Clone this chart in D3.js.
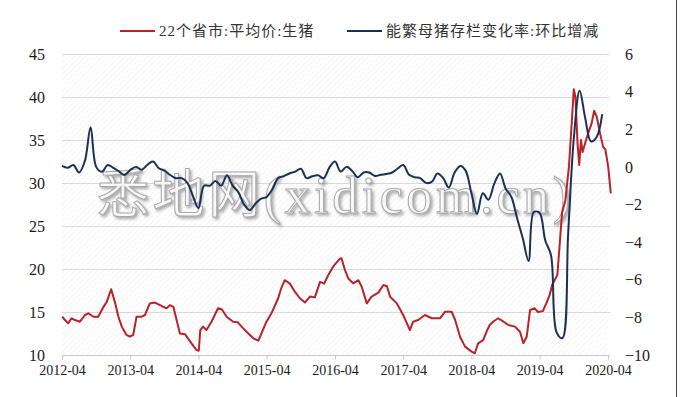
<!DOCTYPE html>
<html>

<head>
    <meta charset="utf-8">
    <script src="https://d3js.org/d3.v7.min.js"></script>
    <style>
        body { margin: 0; background: #fff; }
        svg text { font-family: "Liberation Serif", "Noto Sans CJK SC", serif; }
    </style>

    <script type="text/javascript">
        // 22个省市:平均价:生猪 (weekly, turning points)
        let priceDates = [
            "2012-04-02", "2012-04-17", "2012-05-04", "2012-05-22", "2012-06-09", "2012-07-06",
            "2012-08-02", "2012-08-20", "2012-09-16", "2012-10-12", "2012-11-09", "2012-11-27",
            "2012-12-20", "2013-01-11", "2013-01-28", "2013-02-15", "2013-03-12", "2013-03-30",
            "2013-04-17", "2013-05-05", "2013-06-01", "2013-06-19", "2013-07-15", "2013-08-11",
            "2013-09-16", "2013-10-13", "2013-10-31", "2013-11-18", "2013-12-23", "2014-01-20",
            "2014-02-25", "2014-03-21", "2014-04-03", "2014-04-11", "2014-04-26", "2014-05-14",
            "2014-06-10", "2014-07-15", "2014-08-05", "2014-08-30", "2014-10-04", "2014-10-29",
            "2014-11-27", "2014-12-24", "2015-01-20", "2015-02-16", "2015-03-04", "2015-03-31",
            "2015-04-27", "2015-06-02", "2015-06-20", "2015-07-07", "2015-08-04", "2015-08-30",
            "2015-09-26", "2015-10-23", "2015-11-19", "2015-12-15", "2016-01-12", "2016-02-03",
            "2016-02-25", "2016-03-22", "2016-04-27", "2016-05-06", "2016-05-24", "2016-06-11",
            "2016-07-07", "2016-08-04", "2016-08-22", "2016-09-18", "2016-10-14", "2016-11-19",
            "2016-12-16", "2017-01-04", "2017-01-21", "2017-02-26", "2017-04-01", "2017-05-07",
            "2017-05-24", "2017-06-20", "2017-07-26", "2017-09-01", "2017-10-15", "2017-11-11",
            "2017-12-16", "2018-01-04", "2018-01-30", "2018-02-26", "2018-04-02", "2018-04-19",
            "2018-05-07", "2018-06-03", "2018-06-21", "2018-07-08", "2018-07-26", "2018-08-22",
            "2018-09-18", "2018-10-15", "2018-11-20", "2018-12-17", "2019-01-04", "2019-01-22",
            "2019-02-09", "2019-03-06", "2019-03-23", "2019-04-18", "2019-05-07", "2019-05-25",
            "2019-06-07", "2019-06-21", "2019-07-05", "2019-07-18", "2019-07-30", "2019-08-17",
            "2019-09-05", "2019-09-22", "2019-10-01", "2019-10-10", "2019-10-21", "2019-10-30",
            "2019-11-08", "2019-11-17", "2019-11-30", "2019-12-17", "2020-01-04", "2020-01-18",
            "2020-02-01", "2020-02-18", "2020-03-06", "2020-03-18", "2020-04-02", "2020-04-16"
        ];
        let priceValues = [
            14.45, 14.07, 13.68, 14.27, 14.07, 13.87,
            14.65, 14.85, 14.45, 14.45, 15.6, 16.2,
            17.64, 16.0, 14.45, 13.3, 12.33, 12.13,
            12.33, 14.45, 14.45, 14.65, 16.0, 16.1,
            15.7, 15.43, 15.8, 15.6, 12.5, 12.4,
            11.3, 10.6, 10.5, 12.9, 13.3, 12.9,
            13.87, 15.43, 15.3, 14.45, 13.87, 13.8,
            13.1, 12.5, 11.94, 11.67, 12.5, 13.87,
            14.85, 16.6, 17.87, 18.7, 18.3, 17.36,
            16.6, 16.1, 16.8, 16.7, 18.5, 18.3,
            19.3, 20.27, 21.2, 21.24, 19.9, 18.9,
            18.34, 18.7, 17.94, 16.0, 16.78, 17.25,
            18.14, 18.0, 16.78, 16.0, 14.65, 12.9,
            13.87, 14.07, 14.65, 14.27, 14.27, 15.04,
            15.04, 14.07, 12.13, 10.97, 10.39, 10.2,
            11.36, 11.74, 12.7, 13.5, 13.87, 14.27,
            13.9, 13.5, 13.3, 12.7, 11.36, 12.13,
            15.23, 15.43, 15.0, 15.1, 16.0, 16.98,
            18.14, 18.72, 19.3, 23.0, 26.5, 28.0,
            31.9, 37.7, 40.9, 40.0, 34.6, 32.1,
            35.0, 33.6, 34.6, 35.8, 36.9, 38.4,
            37.7, 35.8, 34.2, 33.9, 31.9, 28.8
        ];

        // 能繁母猪存栏变化率:环比增减 (monthly, from 2012-04)
        let sowStart = "2012-04-01";
        let sowChange = [
            0.05, -0.05, 0.1, -0.3, 0.3, 2.1, 0.0, -0.26, 0.1, -0.05, -0.25, -0.43,
            -0.17, 0.0, -0.15, 0.1, 0.28, -0.07, -0.2, -0.43, -0.6, -0.6, -0.85, -1.5,
            -2.2, -1.0, -1.0, -0.75, -1.0, -0.45, -1.0, -1.35, -2.0, -2.3, -1.95, -1.7,
            -1.6, -1.2, -0.6, -0.5, -0.35, -0.25, -0.1, -0.6, -0.5, -0.45, -0.6, -0.05,
            0.28, -0.25, 0.0, -0.2, -0.55, -0.3, -0.3, -0.48, -0.42, -0.38, -0.3, -0.1,
            0.1, -0.4, -0.55, -0.6, -0.85, -0.8, -0.35, -0.6, -1.1, -0.3, 0.05, -0.2,
            -1.4, -2.5, -1.4, -1.75, -0.9, -0.35, -1.15, -1.6, -2.7, -3.8, -5.0, -2.4,
            -2.45, -3.9, -4.7, -8.8, -9.1, -3.5, 1.5, 4.05, 2.6, 1.35, 1.6, 2.8
        ];

        let xTicks = ["2012-04", "2013-04", "2014-04", "2015-04", "2016-04",
                      "2017-04", "2018-04", "2019-04", "2020-04"];
        let leftTicks = [10, 15, 20, 25, 30, 35, 40, 45];
        let rightTicks = [-10, -8, -6, -4, -2, 0, 2, 4, 6];
        let seriesNames = ["22个省市:平均价:生猪", "能繁母猪存栏变化率:环比增减"];
        let watermark = "悉地网(xidicom.cn)";

        function draw() {
            let width = 680,
                height = 397,
                left = 62,
                right = 608,
                top = 54,
                bottom = 355;

            let red = "#b8232a",
                navy = "#1c2f55";

            let svg = d3.select("body")
                .append("svg")
                    .attr("width", width)
                    .attr("height", height);

            let parseDay = d3.timeParse("%Y-%m-%d");
            let parseMonth = d3.timeParse("%Y-%m");

            let x = d3.scaleTime()
                .domain([parseMonth(xTicks[0]), parseMonth(xTicks[xTicks.length - 1])])
                .range([left, right]);
            let yL = d3.scaleLinear().domain([10, 45]).range([bottom, top]);
            let yR = d3.scaleLinear().domain([-10, 6]).range([bottom, top]);

            // hatched plot background
            let defs = svg.append("defs");
            defs.append("pattern")
                .attr("id", "hatch")
                .attr("patternUnits", "userSpaceOnUse")
                .attr("width", 4)
                .attr("height", 4)
                .attr("patternTransform", "rotate(45)")
                .append("line")
                    .attr("x1", 0).attr("y1", 0)
                    .attr("x2", 0).attr("y2", 4)
                    .attr("stroke", "#ebebeb")
                    .attr("stroke-width", 1);

            let shadow = defs.append("filter").attr("id", "wmShadow")
                .attr("x", "-5%").attr("y", "-20%").attr("width", "110%").attr("height", "140%");
            shadow.append("feDropShadow")
                .attr("dx", 2).attr("dy", 2).attr("stdDeviation", 1.5)
                .attr("flood-color", "#8a8a8a").attr("flood-opacity", 0.8);

            svg.append("rect")
                .attr("x", left)
                .attr("y", top)
                .attr("width", right - left)
                .attr("height", bottom - top)
                .attr("fill", "url(#hatch)");

            // gridlines from left axis
            svg.append("g")
                .selectAll("line")
                .data(leftTicks.filter(d => d > 10))
                .join("line")
                    .attr("x1", left)
                    .attr("x2", right + 2)
                    .attr("y1", d => Math.round(yL(d)) + 0.5)
                    .attr("y2", d => Math.round(yL(d)) + 0.5)
                    .attr("stroke", "#d9d9d9")
                    .attr("stroke-width", 1.2);

            // x axis
            let xAxis = d3.axisBottom(x)
                .tickValues(xTicks.map(parseMonth))
                .tickFormat(d3.timeFormat("%Y-%m"))
                .tickSize(4)
                .tickSizeOuter(0);
            let gx = svg.append("g")
                .attr("transform", `translate(0,${bottom + 0.5})`)
                .call(xAxis);
            gx.select(".domain").attr("stroke", "#c8c8c8").attr("d", `M${left},0H${right + 2}`);
            gx.selectAll(".tick line").attr("stroke", "#c8c8c8");
            gx.selectAll(".tick text")
                .attr("y", 10)
                .attr("fill", "#1a1a1a")
                .style("font-size", "14px")
                .style("font-family", "Liberation Serif");

            // left axis
            let gl = svg.append("g")
                .attr("transform", `translate(${left},0)`)
                .call(d3.axisLeft(yL).tickValues(leftTicks).tickSize(0).tickPadding(17));
            gl.select(".domain").remove();
            gl.selectAll(".tick text")
                .attr("fill", "#1a1a1a")
                .style("font-size", "16px")
                .style("font-family", "Liberation Serif");

            // right axis
            let gr = svg.append("g")
                .attr("transform", `translate(${right},0)`)
                .call(d3.axisRight(yR).tickValues(rightTicks).tickSize(0).tickPadding(17));
            gr.select(".domain").remove();
            gr.selectAll(".tick text")
                .attr("fill", "#1a1a1a")
                .style("font-size", "16px")
                .style("font-family", "Liberation Serif");

            // watermark
            svg.append("text")
                .attr("x", 97)
                .attr("y", 213)
                .attr("textLength", 473)
                .attr("lengthAdjust", "spacing")
                .attr("filter", "url(#wmShadow)")
                .style("font-size", "52px")
                .attr("fill", "#ffffff")
                .attr("fill-opacity", 0.85)
                .attr("stroke", "#a8a8a8")
                .attr("stroke-width", 1)
                .text(watermark);

            // price line
            let priceData = priceDates.map((d, i) => ({ date: parseDay(d), value: priceValues[i] }));
            let priceLine = d3.line()
                .x(d => x(d.date))
                .y(d => yL(d.value));
            svg.append("path")
                .attr("d", priceLine(priceData))
                .attr("fill", "none")
                .attr("stroke", red)
                .attr("stroke-width", 2)
                .attr("stroke-linejoin", "round");

            // sow inventory line (smoothed)
            let start = parseDay(sowStart);
            let sowData = sowChange.map((v, i) => ({ date: d3.timeMonth.offset(start, i), value: v }));
            let sowLine = d3.line()
                .x(d => x(d.date))
                .y(d => yR(d.value))
                .curve(d3.curveCatmullRom.alpha(0.5));
            svg.append("path")
                .attr("d", sowLine(sowData))
                .attr("fill", "none")
                .attr("stroke", navy)
                .attr("stroke-width", 2)
                .attr("stroke-linejoin", "round");

            // legend
            let legend = [
                { name: seriesNames[0], color: red, x: 120 },
                { name: seriesNames[1], color: navy, x: 347 }
            ];
            let lg = svg.append("g").selectAll("g")
                .data(legend)
                .join("g")
                    .attr("transform", d => `translate(${d.x},31)`);
            lg.append("line")
                .attr("x1", 0).attr("x2", 35)
                .attr("stroke", d => d.color)
                .attr("stroke-width", 2);
            lg.append("text")
                .attr("x", 39)
                .attr("y", 5)
                .attr("fill", "#333")
                .style("font-size", "15px")
                .style("letter-spacing", "1px")
                .text(d => d.name);

            // picture border on the right
            svg.append("line")
                .attr("x1", 676.5).attr("x2", 676.5)
                .attr("y1", 0).attr("y2", height)
                .attr("stroke", "#444")
                .attr("stroke-width", 1);
        }
    </script>
</head>

<body>
    <script type="text/javascript">
        draw();
    </script>
</body>

</html>
